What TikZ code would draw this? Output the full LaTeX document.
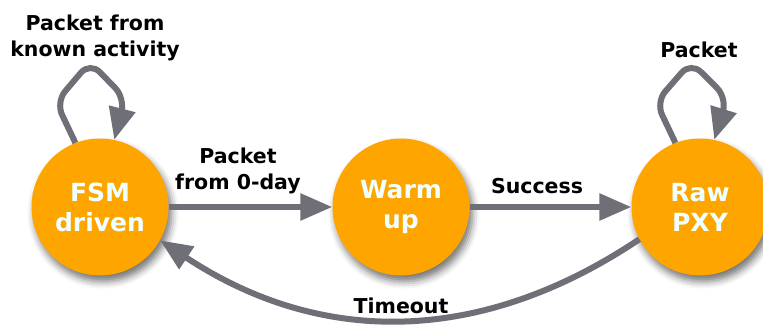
\documentclass[tikz,border=0pt]{standalone}
\usepackage{fontspec}
\setmainfont{DejaVu Sans}
\usetikzlibrary{arrows.meta,shadows.blur}
\definecolor{stateorange}{HTML}{FFA500}
\definecolor{statetext}{HTML}{F0FFFF}
\definecolor{edgegray}{HTML}{6E6F77}
\tikzset{
  state/.style={circle, fill=stateorange, minimum size=137pt, inner sep=0pt,
    text=statetext, align=center,
    font=\fontsize{25}{30}\selectfont\bfseries,
    blur shadow={shadow xshift=3pt, shadow yshift=-6pt,
      shadow blur radius=7pt, shadow opacity=55}},
  edgelabel/.style={align=center, text=black,
    font=\fontsize{20.5}{26}\selectfont\bfseries},
  arr/.style={draw=edgegray, line width=6pt,
    -{Triangle[length=32pt,width=26pt]}},
}
\begin{document}
\begin{tikzpicture}[x=1pt,y=-1pt]
  \useasboundingbox (0,0) rectangle (763,324);

  % states
  \node[state] (fsm) at (100,207) {FSM\\driven};
  \node[state] (warm) at (401,207) {Warm\\up};
  \node[state] (pxy) at (700,207) {Raw\\PXY};

  % transitions
  \draw[arr] (fsm.east) -- (warm.west);
  \draw[arr] (warm.east) -- (pxy.west);
  \draw[arr, rounded corners=14pt]
    (fsm.111) -- (56,102) -- (90,62) -- (125,98) -- (fsm.78);
  \draw[arr, rounded corners=14pt]
    (pxy.111) -- (656,102) -- (691,62) -- (727,98) -- (pxy.78);
  \draw[arr] (pxy.208) .. controls (480,346) and (320,346) .. (fsm.-29);

  % labels
  \node[edgelabel] (lknown) at (95,38) {Packet from\\known activity};
  \node[edgelabel] (lzero) at (238,171) {Packet\\from 0-day};
  \node[edgelabel] (lsucc) at (537,186) {Success};
  \node[edgelabel] (lpkt) at (699,50) {Packet};
  \node[edgelabel] (ltime) at (401,306) {Timeout};
\end{tikzpicture}
\end{document}
